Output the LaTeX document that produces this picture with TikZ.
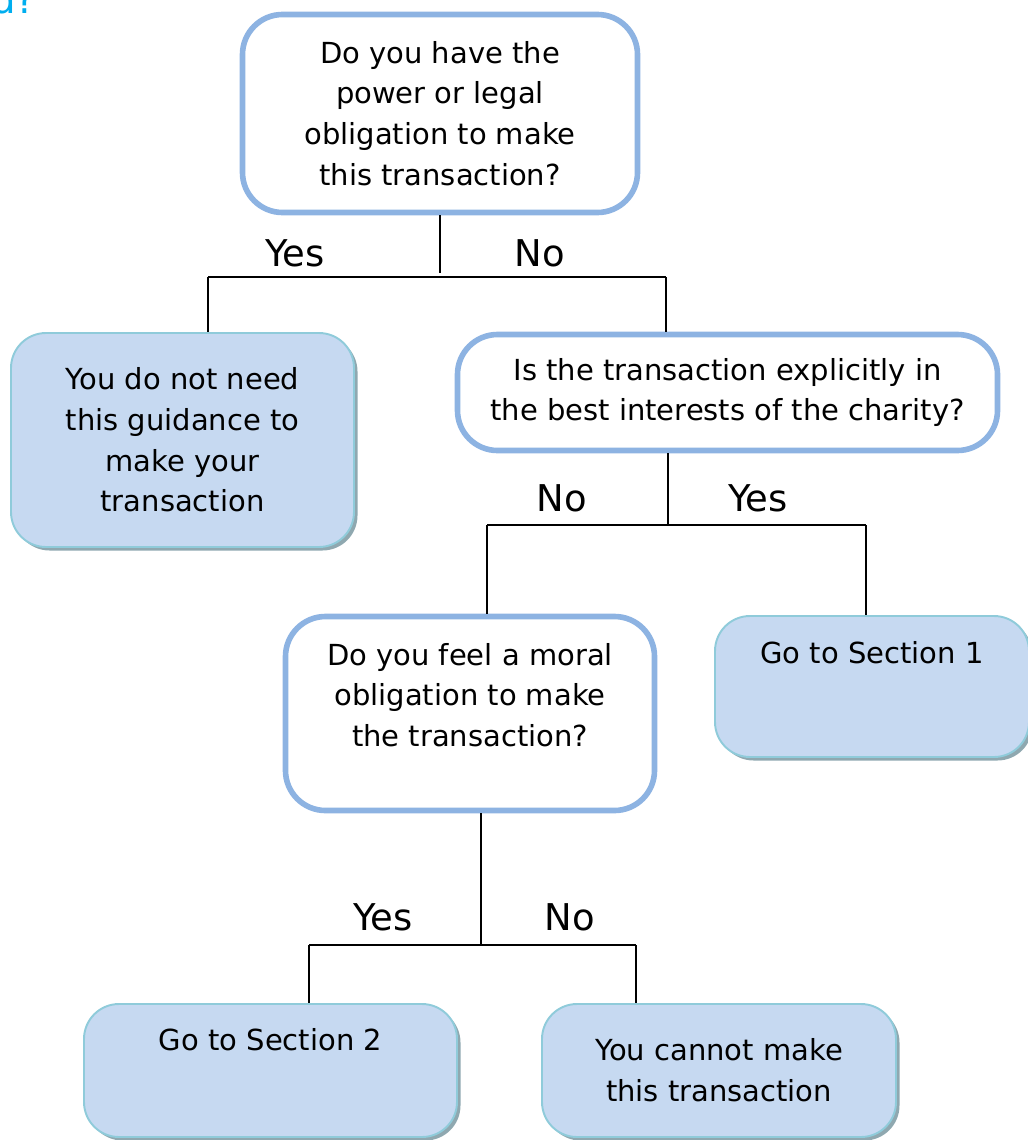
\documentclass[tikz,border=0pt]{standalone}
\usepackage{fontspec}
\setmainfont{DejaVu Sans}
\usetikzlibrary{shadows}
\definecolor{qblue}{HTML}{8DB3E2}
\definecolor{afill}{HTML}{C6D9F1}
\definecolor{aline}{HTML}{8FCBDA}
\definecolor{ashade}{HTML}{8FA8B0}
\definecolor{titlecyan}{HTML}{00AEEF}

\begin{document}
\begin{tikzpicture}[question/.style={draw=qblue, fill=white, line width=3.2pt, rounded corners=0.8cm, align=center, inner sep=0pt, font=\fontsize{16.5}{23.2}\selectfont},
  answer/.style={draw=aline, fill=afill, line width=1.1pt, rounded corners=0.7cm, align=center, inner sep=0pt, font=\fontsize{16.5}{23.2}\selectfont, drop shadow={shadow xshift=0.07cm, shadow yshift=-0.07cm, fill=ashade, opacity=1}},
  choice/.style={anchor=base, inner sep=0pt, font=\fontsize{21}{25}\selectfont},
  link/.style={line width=1.1pt}]
  \useasboundingbox (0,0) rectangle (20.56,-22.8);

  % cut-off heading
  \node[anchor=base west, inner sep=0pt, text=titlecyan, font=\fontsize{22}{26}\selectfont] (head) at (-0.18,-0.26) {d?};

  % boxes
  \node[question, minimum width=7.9cm, minimum height=3.96cm] (q1) at (8.8,-2.27) {Do you have the\\power or legal\\obligation to make\\this transaction?};
  \node[answer, minimum width=6.86cm, minimum height=4.28cm] (r1) at (3.65,-8.8) {You do not need\\this guidance to\\make your\\transaction};
  \node[question, minimum width=10.8cm, minimum height=2.32cm] (q2) at (14.55,-7.85) {Is the transaction explicitly in\\the best interests of the charity?};
  \node[question, minimum width=7.38cm, minimum height=3.88cm, text depth=0.75cm] (q3) at (9.4,-14.27) {Do you feel a moral\\obligation to make\\the transaction?};
  \node[answer, minimum width=6.28cm, minimum height=2.82cm, text depth=1.35cm] (r2) at (17.44,-13.73) {Go to Section 1};
  \node[answer, minimum width=7.46cm, minimum height=2.66cm, text depth=1.25cm] (r3) at (5.41,-21.41) {Go to Section 2};
  \node[answer, minimum width=7.08cm, minimum height=2.66cm] (r4) at (14.38,-21.41) {You cannot make\\this transaction};

  % forks
  \coordinate (j1l) at (4.16,-5.54);
  \coordinate (j1r) at (13.32,-5.54);
  \coordinate (j2l) at (9.74,-10.5);
  \coordinate (j2r) at (17.32,-10.5);
  \coordinate (j3l) at (6.18,-18.9);
  \coordinate (j3r) at (12.72,-18.9);

  \draw[link] (q1.south) -- ++(0,-1.16);
  \draw[link] (j1l) -- (j1r);
  \draw[link] (j1l) -- (j1l |- r1.north);
  \draw[link] (j1r) -- (j1r |- q2.north);

  \draw[link] ([xshift=-1.19cm]q2.south) -- ([xshift=-1.19cm]q2.south |- j2l);
  \draw[link] (j2l) -- (j2r);
  \draw[link] (j2l) -- (j2l |- q3.north);
  \draw[link] (j2r) -- (j2r |- r2.north);

  \draw[link] ([xshift=0.22cm]q3.south) -- ([xshift=0.22cm]q3.south |- j3l);
  \draw[link] (j3l) -- (j3r);
  \draw[link] (j3l) -- (j3l |- r3.north);
  \draw[link] (j3r) -- (j3r |- r4.north);

  % yes / no
  \node[choice] (y1) at (5.9,-5.32) {Yes};
  \node[choice] (n1) at (10.8,-5.32) {No};
  \node[choice] (n2) at (11.24,-10.23) {No};
  \node[choice] (y2) at (15.16,-10.23) {Yes};
  \node[choice] (y3) at (7.66,-18.6) {Yes};
  \node[choice] (n3) at (11.4,-18.6) {No};
\end{tikzpicture}
\end{document}
